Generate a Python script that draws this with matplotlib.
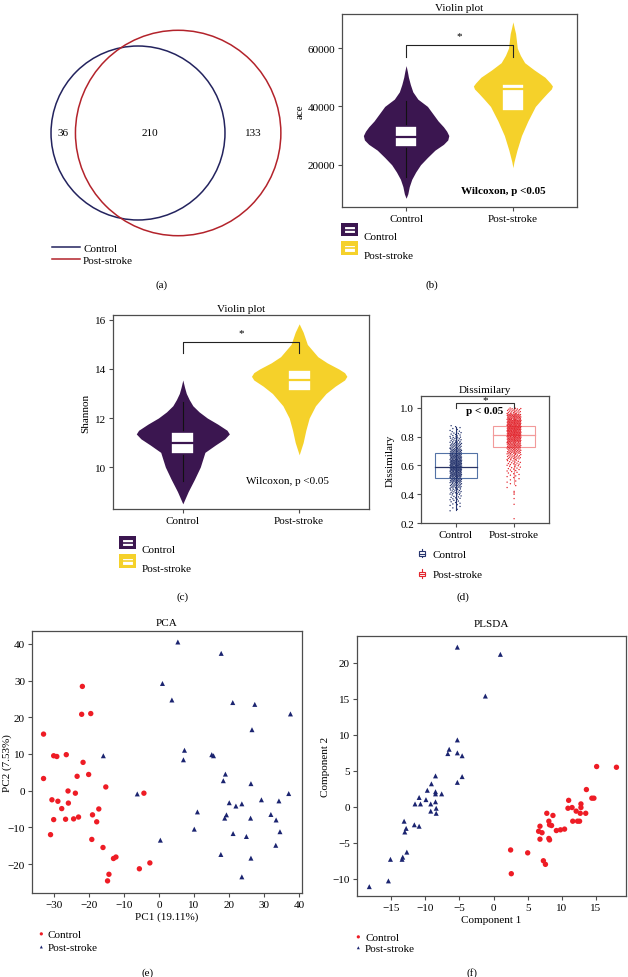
"""
Figure: Venn, violin plots, dissimilarity boxplot, PCA and PLSDA
"""
import numpy as np
import matplotlib
matplotlib.use("Agg")
import matplotlib.pyplot as plt
from matplotlib.patches import Circle, Rectangle
from matplotlib.lines import Line2D
from matplotlib.legend_handler import HandlerBase

plt.rcParams['font.family'] = ['Liberation Serif', 'DejaVu Serif']
plt.rcParams['font.size'] = 8

W, H = 628, 978

# ============================================================
# data
# ============================================================
groups = ["Control", "Post-stroke"]

# Venn: control only, shared, post-stroke only
venn_counts = [36, 210, 133]

# (b) ace violin: value levels and half widths
ace_ctrl_y = [8500, 10000, 12500, 15000, 17500, 20000, 22500, 25000, 27000, 28500,
              30000, 31500, 33000, 35000, 37500, 40000, 42500, 45000, 47500, 50000, 52000, 54000]
ace_ctrl_w = [0, 0.016, 0.03, 0.053, 0.09, 0.135, 0.20, 0.27, 0.35, 0.39,
              0.40, 0.38, 0.35, 0.30, 0.25, 0.20, 0.11, 0.063, 0.04, 0.022, 0.012, 0]
ace_post_y = [19000, 21000, 25000, 30000, 35000, 40000, 42500, 44500, 46000, 47000,
              48000, 50000, 52500, 55000, 57500, 60000, 62500, 65000, 67000, 69000]
ace_post_w = [0, 0.01, 0.038, 0.08, 0.14, 0.21, 0.27, 0.32, 0.36, 0.37,
              0.35, 0.30, 0.20, 0.11, 0.07, 0.041, 0.033, 0.025, 0.012, 0]
# box: whisker low, q1, median, q3, whisker high
ace_box_ctrl = [15900, 26200, 29650, 33450, 42000]
ace_box_post = [30000, 38600, 45950, 47600, 60000]
ace_out_ctrl = [47200]

# (c) Shannon violin
sha_ctrl_y = [8.5, 9.0, 9.5, 10.0, 10.3, 10.6, 10.9, 11.15, 11.35, 11.5,
              11.75, 12.0, 12.25, 12.5, 12.75, 13.0, 13.25, 13.55]
sha_ctrl_w = [0, 0.046, 0.10, 0.15, 0.17, 0.19, 0.28, 0.36, 0.40, 0.38,
              0.30, 0.21, 0.14, 0.086, 0.055, 0.03, 0.015, 0]
sha_post_y = [10.5, 11.0, 11.5, 12.0, 12.5, 13.0, 13.3, 13.55, 13.7, 13.85,
              14.0, 14.25, 14.5, 15.0, 15.5, 15.84]
sha_post_w = [0, 0.034, 0.057, 0.086, 0.14, 0.23, 0.31, 0.39, 0.41, 0.39,
              0.34, 0.24, 0.16, 0.07, 0.034, 0]
sha_box_ctrl = [9.44, 10.53, 10.98, 11.41, 12.64]
sha_box_post = [12.37, 13.11, 13.56, 13.97, 14.95]
sha_out_post = [11.69, 11.41]

# (d) dissimilarity: binned point counts (bin lower edge, count)
dis_bin_w = 0.04
dis_ctrl_edges = [0.28, 0.32, 0.36, 0.40, 0.44, 0.48, 0.52, 0.56, 0.60, 0.64, 0.68, 0.72, 0.76, 0.80, 0.84]
dis_ctrl_counts = [4, 8, 12, 18, 26, 38, 52, 62, 60, 48, 36, 26, 18, 12, 6]
dis_post_edges = [0.44, 0.48, 0.52, 0.56, 0.60, 0.64, 0.68, 0.72, 0.76, 0.80, 0.84, 0.88, 0.92, 0.96]
dis_post_counts = [3, 5, 8, 12, 16, 24, 34, 48, 60, 70, 72, 66, 50, 24]
dis_post_low = [0.23, 0.33, 0.37, 0.40, 0.41, 0.42]
dis_box_ctrl = [0.29, 0.51, 0.59, 0.685, 0.87]
dis_box_post = [0.47, 0.73, 0.815, 0.875, 0.985]

# (e) PCA scores
pca_ctrl_x = [-21.9, -22.1, -19.5, -33.0, -30.1, -29.2, -26.5, -21.7, -20.1, -23.4, -33.0, -15.2,
              -26.0, -23.9, -30.6, -28.9, -25.9, -27.8, -17.2, -30.1, -26.7, -24.4, -23.0, -19.0,
              -17.8, -31.0, -19.2, -16.0, -12.3, -13.0, -14.3, -14.7, -5.6, -2.6, -4.3]
pca_ctrl_y = [28.4, 20.8, 21.0, 15.4, 9.5, 9.3, 9.8, 7.7, 4.4, 3.9, 3.3, 1.0,
              -0.1, -0.7, -2.5, -2.9, -3.4, -4.9, -5.0, -7.9, -7.8, -7.7, -7.2, -6.6,
              -8.5, -12.0, -13.3, -15.5, -18.1, -18.5, -22.8, -24.6, -21.3, -19.7, -0.7]
pca_post_x = [5.4, 17.8, 1.0, 3.7, 21.1, 27.4, 37.6, 26.6, -15.9, 7.3, 7.0, 15.1, 15.6,
              19.0, 18.4, 26.3, -6.2, 37.1, 29.3, 34.3, 20.1, 23.7, 22.0, 11.0, 32.0,
              19.3, 18.8, 26.2, 33.5, 10.1, 34.6, 21.2, 25.0, 0.4, 33.4, 17.7, 26.3, 23.7]
pca_post_y = [40.5, 37.4, 29.2, 24.7, 24.0, 23.5, 20.9, 16.6, 9.5, 11.0, 8.4, 9.8, 9.5,
              4.5, 2.7, 1.9, -0.9, -0.8, -2.5, -2.8, -3.3, -3.6, -4.2, -5.8, -6.5,
              -6.6, -7.5, -7.5, -8.0, -10.5, -11.2, -11.7, -12.5, -13.5, -14.9, -17.4, -18.4, -23.5]

# (f) PLSDA scores
pls_ctrl_x = [18.0, 15.1, 13.6, 14.7, 14.4, 11.0, 12.8, 12.8, 11.5, 10.9, 12.1, 7.8, 8.7, 13.5,
              12.7, 11.6, 12.3, 12.6, 8.1, 6.8, 8.2, 8.5, 6.6, 7.1, 9.2, 9.8, 10.4, 8.1,
              6.8, 8.2, 2.5, 5.0, 7.3, 7.6, 2.6]
pls_ctrl_y = [5.5, 5.6, 2.4, 1.2, 1.2, 0.9, 0.4, -0.1, -0.1, -0.2, -0.6, -0.9, -1.2, -0.9,
              -0.9, -2.0, -2.0, -2.0, -2.0, -2.7, -2.5, -2.6, -3.4, -3.6, -3.3, -3.2, -3.1, -4.4,
              -4.5, -4.6, -6.0, -6.4, -7.5, -8.0, -9.3]
pls_post_x = [-5.3, 1.0, -1.2, -5.3, -6.5, -6.7, -5.3, -4.6, -4.6, -5.3, -8.5, -9.1, -9.7,
              -8.5, -7.6, -8.5, -9.9, -10.9, -11.5, -10.7, -9.2, -8.5, -8.4, -9.2, -8.4,
              -13.1, -12.8, -13.0, -11.6, -10.9, -12.7, -13.3, -13.4, -15.1, -15.4, -18.2]
pls_post_y = [22.2, 21.2, 15.4, 9.3, 8.0, 7.4, 7.5, 7.1, 4.2, 3.4, 4.3, 3.2, 2.3,
              2.1, 1.8, 1.8, 1.0, 1.3, 0.4, 0.4, 0.4, 0.7, -0.2, -0.6, -0.9,
              -2.0, -3.0, -3.5, -2.5, -2.7, -6.3, -7.0, -7.3, -7.3, -10.3, -11.1]

# colours
VENN_CTRL, VENN_POST = "#23235E", "#B3232B"
VIO_CTRL, VIO_POST = "#3B1650", "#F5D12A"
DIS_CTRL_PT, DIS_POST_PT = "#26356E", "#E3262E"
DIS_CTRL_BOX, DIS_POST_BOX = "#5473A6", "#F29A9A"
SC_CTRL, SC_POST = "#EE1C25", "#1B2470"
FRAME = "#4d4d4d"

fig = plt.figure(figsize=(W / 100, H / 100), dpi=100)


def px_axes(x0, y0, x1, y1):
    """axes from pixel box (top-left origin)"""
    return fig.add_axes([x0 / W, 1 - y1 / H, (x1 - x0) / W, (y1 - y0) / H])


def fxy(x, y):
    return (x / W, 1 - y / H)


def style_frame(ax):
    for s in ax.spines.values():
        s.set_color(FRAME)
        s.set_linewidth(0.9)
    ax.tick_params(length=3, width=0.8, color=FRAME, labelsize=8, pad=2)


def ylabel_at(ax, s, x_px, ax_x0, ax_w):
    """put the y label centred at a given figure pixel column"""
    ax.set_ylabel(s, fontsize=8)
    ax.yaxis.label.set_va("center")
    ax.yaxis.set_label_coords(-(ax_x0 - x_px) / ax_w, 0.5)


def caption(x, y, s):
    fig.text(*fxy(x, y), s, ha="center", va="center", fontsize=8)


class ViolinKey(HandlerBase):
    def create_artists(self, legend, orig, xd, yd, width, height, fontsize, trans):
        c = orig.get_facecolor()
        bg = Rectangle((xd, yd), width, height, facecolor=c, edgecolor="none", transform=trans)
        box = Rectangle((xd + width * 0.18, yd + height * 0.25), width * 0.64, height * 0.5,
                        facecolor="white", edgecolor=c, lw=0.8, transform=trans)
        med = Line2D([xd + width * 0.18, xd + width * 0.82], [yd + height / 2] * 2,
                     color=c, lw=1.2, transform=trans)
        return [bg, box, med]


class BoxKey(HandlerBase):
    def create_artists(self, legend, orig, xd, yd, width, height, fontsize, trans):
        c = orig.get_edgecolor()
        cx = xd + width / 2
        box = Rectangle((xd + width * 0.15, yd + height * 0.15), width * 0.7, height * 0.55,
                        facecolor="white", edgecolor=c, lw=0.8, transform=trans)
        med = Line2D([xd + width * 0.15, xd + width * 0.85], [yd + height * 0.42] * 2,
                     color=c, lw=0.8, transform=trans)
        wh = Line2D([cx, cx], [yd - height * 0.05, yd + height * 1.0], color=c, lw=0.8, transform=trans)
        return [wh, box, med]


def draw_violin(ax, pos, ys, ws, color, box, whisk_color, outliers=()):
    ys = np.asarray(ys)
    ws = np.asarray(ws)
    ax.fill_betweenx(ys, pos - ws, pos + ws, color=color, lw=0, zorder=1)
    lo, q1, med, q3, hi = box
    bw = 0.1
    ax.plot([pos, pos], [lo, q1], color=whisk_color, lw=0.8, zorder=2)
    ax.plot([pos, pos], [q3, hi], color=whisk_color, lw=0.8, zorder=2)
    ax.add_patch(Rectangle((pos - bw, q1), 2 * bw, q3 - q1, facecolor="white",
                           edgecolor=color, lw=1.2, zorder=3))
    ax.plot([pos - bw, pos + bw], [med, med], color=color, lw=1.6, zorder=4)
    if len(outliers):
        ax.scatter([pos] * len(outliers), outliers, s=3, color=color, zorder=2,
                   edgecolors="none", alpha=0.6)


def bracket(ax, y_top, y_tick, y_star):
    ax.plot([1, 1, 2, 2], [y_tick, y_top, y_top, y_tick], color="#222222", lw=0.8)
    ax.text(1.5, y_star, "*", ha="center", va="center", fontsize=8)


def violin_legend(x, y):
    handles = [Rectangle((0, 0), 1, 1, facecolor=VIO_CTRL), Rectangle((0, 0), 1, 1, facecolor=VIO_POST)]
    fig.legend(handles, groups, loc="upper left", bbox_to_anchor=fxy(x, y), frameon=False,
               borderpad=0, borderaxespad=0, handlelength=1.5, handleheight=1.5,
               labelspacing=0.45, handletextpad=0.5, fontsize=8,
               handler_map={Rectangle: ViolinKey()})


# ============================================================
# (a) Venn
# ============================================================
ax = px_axes(0, 0, 314, 240)
r1 = np.sqrt((venn_counts[0] + venn_counts[1]) / np.pi)
r2 = np.sqrt((venn_counts[1] + venn_counts[2]) / np.pi)


def lens_area(d):
    a1 = r1 ** 2 * np.arccos((d ** 2 + r1 ** 2 - r2 ** 2) / (2 * d * r1))
    a2 = r2 ** 2 * np.arccos((d ** 2 + r2 ** 2 - r1 ** 2) / (2 * d * r2))
    a3 = 0.5 * np.sqrt((-d + r1 + r2) * (d + r1 - r2) * (d - r1 + r2) * (d + r1 + r2))
    return a1 + a2 - a3


lo_d, hi_d = abs(r2 - r1) + 1e-6, r1 + r2 - 1e-6
for _ in range(60):
    mid = (lo_d + hi_d) / 2
    if lens_area(mid) > venn_counts[1]:
        lo_d = mid
    else:
        hi_d = mid
dist = (lo_d + hi_d) / 2

scale = 9.83  # pixels per unit
ax.add_patch(Circle((0, 0), r1, fill=False, edgecolor=VENN_CTRL, lw=1.1))
ax.add_patch(Circle((dist, 0), r2, fill=False, edgecolor=VENN_POST, lw=1.1))
ax.text(((-r1) + (dist - r2)) / 2, 0, str(venn_counts[0]), ha="center", va="center", fontsize=8)
ax.text(((dist - r2) + r1) / 2, 0, str(venn_counts[1]), ha="center", va="center", fontsize=8)
ax.text((r1 + dist + r2) / 2, 0, str(venn_counts[2]), ha="center", va="center", fontsize=8)
ax.set_xlim(-138 / scale, (314 - 138) / scale)
ax.set_ylim(-(240 - 134) / scale, 134 / scale)
ax.axis("off")
fig.legend([Line2D([], [], color=VENN_CTRL, lw=1.1), Line2D([], [], color=VENN_POST, lw=1.1)],
           groups, loc="upper left", bbox_to_anchor=fxy(52, 244), frameon=False,
           borderpad=0, borderaxespad=0, handlelength=2.5, labelspacing=0.2,
           handletextpad=0.3, fontsize=8)
caption(162, 285, "(a)")

# ============================================================
# (b) ace violin
# ============================================================
ax = px_axes(342, 15, 577, 208)
draw_violin(ax, 1, ace_ctrl_y, ace_ctrl_w, VIO_CTRL, ace_box_ctrl, "#111111", ace_out_ctrl)
draw_violin(ax, 2, ace_post_y, ace_post_w, VIO_POST, ace_box_post, VIO_POST)
bracket(ax, 60900, 57100, 64300)
ax.text(1.91, 11000, "Wilcoxon, p <0.05", ha="center", va="center", fontsize=8, fontweight="bold")
ax.set_xlim(0.4, 2.6)
ax.set_ylim(5500, 71700)
ax.set_xticks([1, 2], groups)
ax.set_yticks([20000, 40000, 60000])
ax.set_ylabel("ace", fontsize=8, labelpad=2)
ax.set_title("Violin plot", fontsize=8, pad=3)
style_frame(ax)
violin_legend(341, 230)
caption(432, 285, "(b)")

# ============================================================
# (c) Shannon violin
# ============================================================
ax = px_axes(113, 316, 369, 510)
draw_violin(ax, 1, sha_ctrl_y, sha_ctrl_w, VIO_CTRL, sha_box_ctrl, "#111111")
draw_violin(ax, 2, sha_post_y, sha_post_w, VIO_POST, sha_box_post, VIO_POST, sha_out_post)
bracket(ax, 15.11, 14.65, 15.5)
ax.text(1.9, 9.44, "Wilcoxon, p <0.05", ha="center", va="center", fontsize=8)
ax.set_xlim(0.4, 2.6)
ax.set_ylim(8.29, 16.2)
ax.set_xticks([1, 2], groups)
ax.set_yticks([10, 12, 14, 16])
ax.set_ylabel("Shannon", fontsize=8, labelpad=3)
ax.set_title("Violin plot", fontsize=8, pad=3)
style_frame(ax)
violin_legend(119, 543)
caption(183, 597, "(c)")

# ============================================================
# (d) Dissimilarity boxplot + jitter
# ============================================================
ax = px_axes(421, 397, 549, 524)
for pos, box, ec, mc in [(1, dis_box_ctrl, DIS_CTRL_BOX, "#2B3566"), (2, dis_box_post, DIS_POST_BOX, DIS_POST_BOX)]:
    lo, q1, med, q3, hi = box
    ax.add_patch(Rectangle((pos - 0.36, q1), 0.72, q3 - q1, facecolor="white", edgecolor=ec, lw=0.8, zorder=1))
    ax.plot([pos - 0.36, pos + 0.36], [med, med], color=mc, lw=0.9, zorder=1)
    ax.plot([pos, pos], [lo, hi], color=ec if pos == 2 else "#26356E", lw=0.8, zorder=1)

for pos, edges, counts, jw, col in [(1, dis_ctrl_edges, dis_ctrl_counts, 0.10, DIS_CTRL_PT),
                                    (2, dis_post_edges, dis_post_counts, 0.12, DIS_POST_PT)]:
    xs, ys = [], []
    for e, n in zip(edges, counts):
        k = np.arange(n)
        ys.append(e + dis_bin_w * (k + 0.5) / n)
        xs.append(pos + jw * (((k * 0.618034) % 1) * 2 - 1))
    ax.scatter(np.concatenate(xs), np.concatenate(ys), s=1.0, color=col, edgecolors="none", zorder=2)
ax.scatter([2] * len(dis_post_low), dis_post_low, s=1.0, color=DIS_POST_PT, edgecolors="none", zorder=2)

ax.plot([1, 1, 2, 2], [1.0, 1.035, 1.035, 1.0], color="#333333", lw=0.8)
ax.text(1.5, 1.058, "*", ha="center", va="center", fontsize=8)
ax.text(1.5, 0.985, "p < 0.05", ha="center", va="center", fontsize=8, fontweight="bold")
ax.set_xlim(0.4, 2.6)
ax.set_ylim(0.2, 1.083)
ax.set_xticks([1, 2], groups)
ax.set_yticks([0.2, 0.4, 0.6, 0.8, 1.0], ["0.2", "0.4", "0.6", "0.8", "1.0"])
ax.set_ylabel("Dissimilary", fontsize=8, labelpad=4)
ax.set_title("Dissimilary", fontsize=8, pad=3)
style_frame(ax)
fig.legend([Rectangle((0, 0), 1, 1, edgecolor=DIS_CTRL_PT, facecolor="white"),
            Rectangle((0, 0), 1, 1, edgecolor=DIS_POST_PT, facecolor="white")],
           groups, loc="upper left", bbox_to_anchor=fxy(418, 550), frameon=False,
           borderpad=0, borderaxespad=0, handlelength=0.7, handleheight=0.7,
           labelspacing=0.95, handletextpad=0.6, fontsize=8,
           handler_map={Rectangle: BoxKey()})
caption(463, 597, "(d)")

# ============================================================
# (e) PCA
# ============================================================
ax = px_axes(32, 632, 302, 894)
ax.scatter(pca_ctrl_x, pca_ctrl_y, s=15, marker="o", color=SC_CTRL, edgecolors="none", label="Control")
ax.scatter(pca_post_x, pca_post_y, s=13, marker="^", color=SC_POST, edgecolors="none", label="Post-stroke")
ax.set_xlim(-36.3, 40.9)
ax.set_ylim(-27.9, 43.5)
ax.set_xticks(np.arange(-30, 41, 10))
ax.set_yticks(np.arange(-20, 41, 10))
ax.set_xlabel("PC1 (19.11%)", fontsize=8, labelpad=2)
ylabel_at(ax, "PC2 (7.53%)", 7, 32, 270)
ax.set_title("PCA", fontsize=8, pad=4)
style_frame(ax)
fig.legend(*ax.get_legend_handles_labels(), loc="upper left", bbox_to_anchor=fxy(38, 930),
           frameon=False, borderpad=0, borderaxespad=0, handlelength=0.6,
           labelspacing=0.3, handletextpad=0.3, fontsize=8, markerscale=0.6)
caption(148, 973, "(e)")

# ============================================================
# (f) PLSDA
# ============================================================
ax = px_axes(357, 637, 626, 897)
ax.scatter(pls_ctrl_x, pls_ctrl_y, s=15, marker="o", color=SC_CTRL, edgecolors="none", label="Control")
ax.scatter(pls_post_x, pls_post_y, s=13, marker="^", color=SC_POST, edgecolors="none", label="Post-stroke")
ax.set_xlim(-20, 19.4)
ax.set_ylim(-12.4, 23.75)
ax.set_xticks(np.arange(-15, 16, 5))
ax.set_yticks(np.arange(-10, 21, 5))
ax.set_xlabel("Component 1", fontsize=8, labelpad=2)
ylabel_at(ax, "Component 2", 325, 357, 269)
ax.set_title("PLSDA", fontsize=8, pad=7)
style_frame(ax)
fig.legend(*ax.get_legend_handles_labels(), loc="upper left", bbox_to_anchor=fxy(355, 933),
           frameon=False, borderpad=0, borderaxespad=0, handlelength=0.6,
           labelspacing=0.1, handletextpad=0.3, fontsize=8, markerscale=0.6)
caption(472, 973, "(f)")

fig.savefig("out.png", dpi=100)
plt.close(fig)
